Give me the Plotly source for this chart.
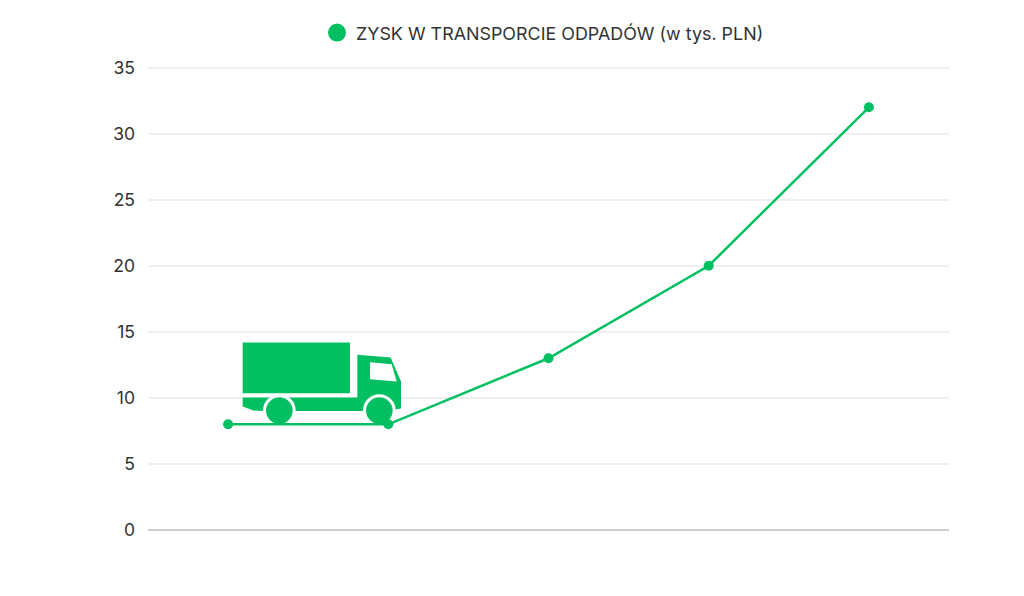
import plotly.graph_objects as go

GREEN = "#02c061"
series_name = "ZYSK W TRANSPORCIE ODPADÓW (w tys. PLN)"
positions = [0, 1, 2, 3, 4]
values = [8, 8, 13, 20, 32]
y_ticks = [0, 5, 10, 15, 20, 25, 30, 35]

# plot frame in page pixels (y range runs a hair past 35 so the top gridline is drawn)
Y_TOP = 35.2
L, R, B = 148, 949, 530
PX_PER_UNIT = (530 - 68) / 35
T = B - Y_TOP * PX_PER_UNIT


def px_x(x):
    return -0.5 + (x - L) / (R - L) * 5


def px_y(y):
    return (B - y) / PX_PER_UNIT


def zx(v):
    return px_x(220 + v / 3)


def zy(v):
    return px_y(330 + v / 3)


def poly(points):
    return "M" + " L".join(f"{zx(a):.4f},{zy(b):.4f}" for a, b in points) + " Z"


def circle(cx, cy, r, fill):
    return dict(type="circle", xref="x", yref="y", layer="between",
                x0=zx(cx - r), x1=zx(cx + r), y0=zy(cy + r), y1=zy(cy - r),
                fillcolor=fill, line=dict(width=0))


def path(points, fill):
    return dict(type="path", xref="x", yref="y", layer="between", path=poly(points),
                fillcolor=fill, line=dict(width=0))


truck = [
    path([(68, 38), (390, 38), (390, 190), (68, 190)], GREEN),
    path([(68, 203), (412, 203), (412, 75), (512, 83), (543, 155), (543, 236),
          (500, 243), (130, 243), (100, 242), (68, 230)], GREEN),
    path([(450, 97), (515, 103), (530, 155), (450, 148)], "#ffffff"),
    circle(178, 242, 49, "#ffffff"),
    circle(478, 242, 49, "#ffffff"),
    circle(178, 242, 40, GREEN),
    circle(478, 242, 40, GREEN),
]

legend_dot = dict(type="circle", xref="paper", yref="paper", layer="above",
                  x0=(328 - L) / (R - L), x1=(346 - L) / (R - L),
                  y0=(B - 42) / (B - T), y1=(B - 24) / (B - T),
                  fillcolor=GREEN, line=dict(width=0))

fig = go.Figure()
fig.add_trace(go.Scatter(x=positions, y=values, mode="lines+markers", name=series_name,
                         showlegend=False, line=dict(color=GREEN, width=2.5),
                         marker=dict(color=GREEN, size=10), hoverinfo="x+y"))

fig.update_layout(
    width=1024, height=596,
    margin=dict(l=L, r=1024 - R, t=T, b=596 - B, autoexpand=False),
    paper_bgcolor="#ffffff", plot_bgcolor="#ffffff",
    font=dict(family="Inter, sans-serif", size=17.5, color="#333333"),
    xaxis=dict(range=[-0.5, 4.5], showgrid=False, zeroline=False, showticklabels=False,
               ticks="", showline=False, fixedrange=True),
    yaxis=dict(range=[0, Y_TOP], tickvals=y_ticks, gridcolor="#efefef", gridwidth=1.5,
               zeroline=True, zerolinecolor="#cfcfcf", zerolinewidth=2,
               ticks="", ticklabelstandoff=12, fixedrange=True),
    shapes=truck + [legend_dot],
    annotations=[dict(text=series_name, xref="paper", yref="paper", showarrow=False,
                      x=(354 - L) / (R - L), xanchor="left",
                      y=(B - 33.5) / (B - T), yanchor="middle",
                      font=dict(size=17.9, color="#333333"))],
)
fig.write_html("out.html", config=dict(displayModeBar=False),
               post_script="document.body.style.margin='0';")
